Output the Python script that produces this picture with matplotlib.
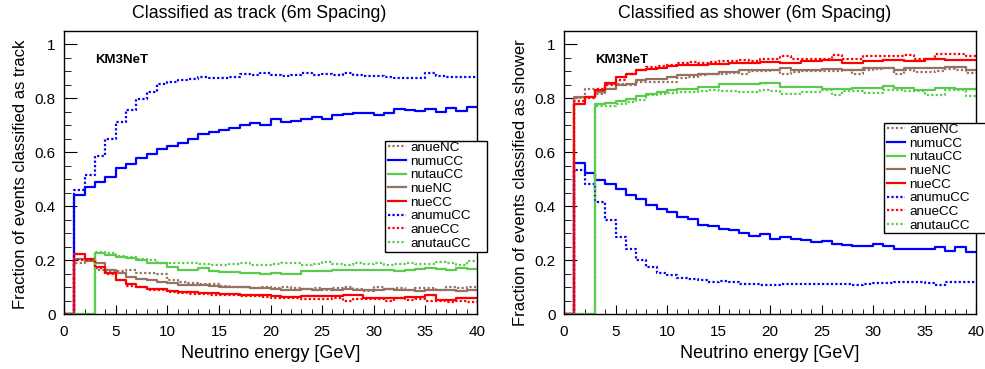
import numpy as np
import matplotlib
matplotlib.use("Agg")
import matplotlib.pyplot as plt
from matplotlib.patches import Rectangle
from matplotlib.ticker import MultipleLocator, FuncFormatter

plt.rcParams['font.family'] = ['Liberation Sans', 'DejaVu Sans']

# energy bins, 1 GeV wide
edges = np.arange(0, 41, 1)

labels = ["anueNC", "numuCC", "nutauCC", "nueNC", "nueCC", "anumuCC", "anueCC", "anutauCC"]

# fraction classified as track
anueNC_trk = [0, 0.19, 0.20, 0.163, 0.156, 0.16, 0.165, 0.151, 0.151, 0.15, 0.125, 0.12, 0.115, 0.11, 0.11,
              0.105, 0.10, 0.102, 0.098, 0.10, 0.095, 0.10, 0.098, 0.094, 0.097, 0.09, 0.095, 0.10, 0.092, 0.085,
              0.10, 0.092, 0.098, 0.09, 0.095, 0.095, 0.088, 0.10, 0.095, 0.10]
numuCC_trk = [0, 0.44, 0.47, 0.49, 0.51, 0.54, 0.556, 0.577, 0.595, 0.614, 0.623, 0.636, 0.648, 0.667, 0.674,
              0.681, 0.689, 0.702, 0.71, 0.701, 0.722, 0.712, 0.716, 0.722, 0.73, 0.725, 0.737, 0.741, 0.744, 0.746,
              0.738, 0.746, 0.759, 0.757, 0.754, 0.759, 0.751, 0.765, 0.753, 0.767]
nutauCC_trk = [0, 0, 0, 0.225, 0.219, 0.212, 0.206, 0.20, 0.191, 0.188, 0.175, 0.165, 0.165, 0.169, 0.16,
               0.157, 0.157, 0.153, 0.151, 0.148, 0.151, 0.15, 0.148, 0.16, 0.16, 0.158, 0.163, 0.162, 0.165, 0.163,
               0.162, 0.165, 0.16, 0.162, 0.167, 0.17, 0.168, 0.165, 0.17, 0.168]
nueNC_trk = [0, 0.203, 0.197, 0.188, 0.165, 0.151, 0.138, 0.131, 0.126, 0.12, 0.114, 0.107, 0.107, 0.107, 0.104,
             0.101, 0.099, 0.099, 0.096, 0.096, 0.094, 0.09, 0.088, 0.092, 0.09, 0.092, 0.09, 0.093, 0.09, 0.088,
             0.09, 0.092, 0.088, 0.09, 0.085, 0.09, 0.088, 0.09, 0.087, 0.09]
nueCC_trk = [0, 0.222, 0.203, 0.175, 0.153, 0.128, 0.111, 0.101, 0.094, 0.091, 0.085, 0.081, 0.081, 0.079, 0.077,
             0.074, 0.074, 0.072, 0.07, 0.069, 0.066, 0.064, 0.064, 0.066, 0.066, 0.065, 0.066, 0.07, 0.07, 0.06,
             0.059, 0.059, 0.059, 0.064, 0.064, 0.07, 0.052, 0.052, 0.06, 0.06]
anumuCC_trk = [0, 0.46, 0.515, 0.585, 0.651, 0.712, 0.758, 0.796, 0.823, 0.854, 0.86, 0.867, 0.873, 0.881, 0.875,
               0.876, 0.881, 0.89, 0.885, 0.895, 0.888, 0.883, 0.888, 0.893, 0.888, 0.89, 0.888, 0.894, 0.888, 0.884,
               0.883, 0.879, 0.874, 0.877, 0.876, 0.894, 0.883, 0.879, 0.879, 0.878]
anueCC_trk = [0, 0.20, 0.20, 0.17, 0.15, 0.125, 0.105, 0.10, 0.09, 0.09, 0.08, 0.078, 0.075, 0.075, 0.07,
              0.072, 0.07, 0.068, 0.065, 0.062, 0.06, 0.058, 0.06, 0.055, 0.057, 0.055, 0.06, 0.05, 0.055, 0.056,
              0.054, 0.05, 0.058, 0.052, 0.055, 0.05, 0.048, 0.045, 0.05, 0.045]
anutauCC_trk = [0, 0, 0, 0.23, 0.225, 0.215, 0.21, 0.205, 0.20, 0.188, 0.19, 0.19, 0.19, 0.185, 0.18,
                0.182, 0.185, 0.188, 0.183, 0.18, 0.185, 0.19, 0.188, 0.182, 0.185, 0.192, 0.185, 0.18, 0.188, 0.185,
                0.188, 0.182, 0.185, 0.19, 0.187, 0.185, 0.192, 0.19, 0.18, 0.197]

# fraction classified as shower
anueNC_shw = [0, 0.80, 0.836, 0.818, 0.855, 0.855, 0.85, 0.86, 0.86, 0.86, 0.86, 0.875, 0.88, 0.885, 0.89,
              0.89, 0.895, 0.89, 0.90, 0.90, 0.905, 0.89, 0.898, 0.902, 0.90, 0.90, 0.903, 0.905, 0.89, 0.905,
              0.91, 0.912, 0.89, 0.905, 0.898, 0.898, 0.90, 0.91, 0.905, 0.895]
numuCC_shw = [0, 0.56, 0.523, 0.496, 0.484, 0.463, 0.443, 0.425, 0.406, 0.391, 0.377, 0.36, 0.351, 0.33, 0.326,
              0.317, 0.311, 0.299, 0.29, 0.296, 0.277, 0.286, 0.28, 0.274, 0.268, 0.272, 0.259, 0.256, 0.252, 0.252,
              0.259, 0.252, 0.24, 0.242, 0.241, 0.24, 0.249, 0.233, 0.247, 0.231]
nutauCC_shw = [0, 0, 0, 0.778, 0.783, 0.79, 0.799, 0.807, 0.817, 0.823, 0.83, 0.836, 0.836, 0.844, 0.844,
               0.854, 0.854, 0.854, 0.852, 0.857, 0.857, 0.844, 0.844, 0.844, 0.844, 0.836, 0.836, 0.836, 0.84, 0.84,
               0.84, 0.846, 0.84, 0.84, 0.83, 0.83, 0.84, 0.84, 0.836, 0.833]
nueNC_shw = [0, 0.805, 0.805, 0.823, 0.836, 0.848, 0.854, 0.867, 0.873, 0.873, 0.879, 0.885, 0.885, 0.891, 0.891,
             0.897, 0.897, 0.904, 0.904, 0.906, 0.906, 0.913, 0.904, 0.904, 0.904, 0.909, 0.909, 0.904, 0.904, 0.913,
             0.913, 0.913, 0.904, 0.913, 0.913, 0.913, 0.913, 0.915, 0.915, 0.906]
nueCC_shw = [0, 0.778, 0.805, 0.83, 0.857, 0.879, 0.891, 0.904, 0.91, 0.914, 0.919, 0.922, 0.924, 0.924, 0.928,
             0.928, 0.93, 0.93, 0.93, 0.935, 0.935, 0.933, 0.933, 0.938, 0.938, 0.941, 0.941, 0.933, 0.933, 0.938,
             0.938, 0.941, 0.941, 0.938, 0.938, 0.947, 0.947, 0.941, 0.941, 0.941]
anumuCC_shw = [0, 0.533, 0.481, 0.416, 0.348, 0.286, 0.24, 0.20, 0.175, 0.151, 0.144, 0.135, 0.131, 0.126, 0.12,
               0.122, 0.12, 0.111, 0.111, 0.109, 0.107, 0.112, 0.113, 0.111, 0.11, 0.112, 0.111, 0.11, 0.107, 0.112,
               0.114, 0.114, 0.117, 0.12, 0.118, 0.116, 0.109, 0.117, 0.119, 0.12]
anueCC_shw = [0, 0.79, 0.80, 0.835, 0.85, 0.87, 0.89, 0.905, 0.915, 0.92, 0.925, 0.93, 0.935, 0.93, 0.935,
              0.938, 0.94, 0.942, 0.94, 0.945, 0.947, 0.956, 0.947, 0.947, 0.947, 0.947, 0.96, 0.947, 0.947, 0.956,
              0.956, 0.956, 0.956, 0.96, 0.947, 0.947, 0.965, 0.965, 0.965, 0.956]
anutauCC_shw = [0, 0, 0, 0.77, 0.772, 0.78, 0.785, 0.795, 0.811, 0.815, 0.82, 0.822, 0.825, 0.828, 0.83,
                0.826, 0.826, 0.822, 0.825, 0.83, 0.826, 0.817, 0.817, 0.822, 0.825, 0.83, 0.811, 0.826, 0.826, 0.82,
                0.82, 0.83, 0.83, 0.826, 0.826, 0.811, 0.811, 0.83, 0.83, 0.807]

colors = ['#957262', '#0000ff', '#5acc4c', '#957262', '#ff0000', '#0000ff', '#ff0000', '#5acc4c']
dotted = (0, (1, 1))
styles = [dotted, '-', '-', '-', '-', dotted, dotted, dotted]

track = [anueNC_trk, numuCC_trk, nutauCC_trk, nueNC_trk, nueCC_trk, anumuCC_trk, anueCC_trk, anutauCC_trk]
shower = [anueNC_shw, numuCC_shw, nutauCC_shw, nueNC_shw, nueCC_shw, anumuCC_shw, anueCC_shw, anutauCC_shw]

W, H = 985, 369
fig = plt.figure(figsize=(9.85, 3.69), dpi=100)
ax1 = fig.add_axes([64 / W, 55 / H, 413 / W, 283 / H])
ax2 = fig.add_axes([564 / W, 55 / H, 412 / W, 283 / H])

# (axes, data, title, ylabel, title centre x, legend box left, top, bottom) in pixels
panels = [(ax1, track, "Classified as track (6m Spacing)", "Fraction of events classified as track", 259, 385, 141, 252),
          (ax2, shower, "Classified as shower (6m Spacing)", "Fraction of events classified as shower", 755, 884, 123, 233)]

for ax, series, title, ylab, tx, lx, ltop, lbot in panels:
    handles = []
    for vals, lab, c, ls in zip(series, labels, colors, styles):
        h, = ax.plot(edges, list(vals) + [vals[-1]], drawstyle='steps-post', color=c, lw=1.6, ls=ls, label=lab)
        handles.append(h)
    ax.set_xlim(0, 40)
    ax.set_ylim(0, 1.05)
    ax.xaxis.set_major_locator(MultipleLocator(5))
    ax.xaxis.set_minor_locator(MultipleLocator(1))
    ax.yaxis.set_major_locator(MultipleLocator(0.2))
    ax.yaxis.set_minor_locator(MultipleLocator(0.05))
    ax.yaxis.set_major_formatter(FuncFormatter(lambda v, p: '%g' % round(v, 2)))
    ax.tick_params(axis='both', which='both', direction='in', top=False, right=False, labelsize=11)
    ax.tick_params(axis='y', which='major', length=9.5, pad=6)
    ax.tick_params(axis='y', which='minor', length=5)
    ax.tick_params(axis='x', which='major', length=6.5, pad=8)
    ax.tick_params(axis='x', which='minor', length=3.5)
    for s in ax.spines.values():
        s.set_linewidth(1.0)
    ax.set_xlabel("Neutrino energy [GeV]", fontsize=13, labelpad=4)
    ax.set_ylabel(ylab, fontsize=12, loc='top', labelpad=5)
    ax.yaxis.label.set_y(0.97)
    ax.text(3.05, 0.942, "KM3NeT", fontsize=9.5, fontweight='bold', va='center', ha='left')
    fig.text(tx / W, 1 - 13 / H, title, fontsize=12.8, ha='center', va='center')

    # legend box drawn separately (ROOT style, extra room on the right)
    fig.add_artist(Rectangle((lx / W, 1 - lbot / H), 102 / W, (lbot - ltop) / H, transform=fig.transFigure,
                             facecolor='white', edgecolor='black', lw=1.0, zorder=4))
    fig.legend(handles=handles, loc='upper left', bbox_to_anchor=((lx + 2) / W, 1 - ltop / H),
               fontsize=9.7, frameon=False, labelspacing=0.09, handlelength=1.35,
               handletextpad=0.3, borderpad=0.05, borderaxespad=0)

fig.savefig("out.png", dpi=100)
